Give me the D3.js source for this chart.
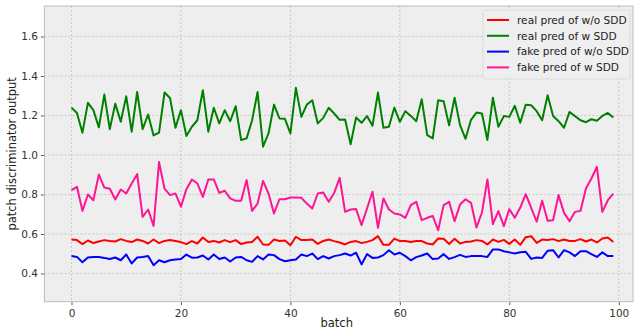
<!DOCTYPE html>
<html>
<head>
<meta charset="utf-8">
<script src="https://cdn.jsdelivr.net/npm/d3@7/dist/d3.min.js"></script>
<style>
  html, body { margin: 0; padding: 0; background: #ffffff; }
  svg { display: block; font-family: "DejaVu Sans", sans-serif; }
</style>
</head>
<body>
<svg id="chart" width="637" height="331"></svg>
<script>
const batches = d3.range(100);
const xTicks = [0, 20, 40, 60, 80, 100];
const yTicks = [0.4, 0.6, 0.8, 1.0, 1.2, 1.4, 1.6];
const seriesNames = ["real pred of w/o SDD", "real pred of w SDD", "fake pred of w/o SDD", "fake pred of w SDD"];
const seriesColors = ["#ff0000", "#008000", "#0000ff", "#ff1493"];

const realWoSDD = [0.572,0.569,0.549,0.567,0.554,0.562,0.569,0.565,0.562,0.574,0.565,0.559,0.572,0.565,0.552,0.572,0.554,0.565,0.570,0.565,
  0.559,0.549,0.564,0.552,0.582,0.559,0.565,0.557,0.569,0.559,0.569,0.549,0.557,0.560,0.586,0.547,0.545,0.572,0.565,0.567,
  0.543,0.586,0.569,0.570,0.572,0.550,0.565,0.572,0.564,0.557,0.547,0.560,0.564,0.554,0.560,0.569,0.589,0.545,0.545,0.577,
  0.564,0.565,0.559,0.564,0.564,0.552,0.547,0.577,0.576,0.549,0.576,0.552,0.560,0.562,0.569,0.565,0.547,0.572,0.560,0.570,
  0.550,0.572,0.545,0.584,0.589,0.555,0.572,0.570,0.574,0.564,0.572,0.565,0.565,0.574,0.562,0.572,0.557,0.577,0.582,0.559];
const realWSDD = [1.239,1.213,1.113,1.264,1.227,1.140,1.306,1.131,1.260,1.168,1.297,1.118,1.319,1.131,1.205,1.099,1.113,1.316,1.289,1.138,
  1.227,1.096,1.143,1.176,1.328,1.118,1.239,1.160,1.227,1.171,1.247,1.076,1.084,1.176,1.319,1.042,1.109,1.255,1.185,1.183,
  1.109,1.340,1.193,1.255,1.277,1.160,1.188,1.239,1.210,1.178,1.180,1.054,1.190,1.163,1.197,1.148,1.316,1.138,1.143,1.240,
  1.168,1.222,1.198,1.171,1.282,1.101,1.084,1.277,1.272,1.150,1.290,1.151,1.082,1.178,1.215,1.210,1.076,1.290,1.143,1.197,
  1.193,1.249,1.163,1.254,1.252,1.222,1.176,1.303,1.197,1.171,1.138,1.218,1.197,1.176,1.166,1.181,1.173,1.198,1.213,1.190];
const fakeWoSDD = [0.489,0.484,0.457,0.481,0.484,0.484,0.479,0.473,0.481,0.467,0.496,0.451,0.481,0.484,0.489,0.442,0.467,0.457,0.467,0.471,
  0.473,0.496,0.480,0.481,0.491,0.471,0.496,0.473,0.481,0.461,0.481,0.484,0.467,0.459,0.488,0.471,0.496,0.493,0.473,0.462,
  0.467,0.471,0.496,0.488,0.501,0.473,0.488,0.476,0.488,0.493,0.501,0.491,0.505,0.446,0.498,0.479,0.481,0.493,0.518,0.496,
  0.505,0.488,0.467,0.483,0.491,0.501,0.473,0.476,0.498,0.474,0.483,0.494,0.484,0.488,0.488,0.488,0.484,0.522,0.522,0.513,
  0.507,0.501,0.508,0.510,0.474,0.481,0.479,0.515,0.518,0.481,0.518,0.507,0.488,0.513,0.513,0.498,0.484,0.507,0.488,0.488];
const fakeWSDD = [0.822,0.839,0.717,0.800,0.771,0.901,0.835,0.829,0.775,0.825,0.805,0.856,0.903,0.687,0.724,0.641,0.964,0.830,0.797,0.805,
  0.738,0.827,0.876,0.856,0.788,0.876,0.876,0.808,0.819,0.780,0.768,0.768,0.873,0.717,0.754,0.869,0.805,0.704,0.776,0.776,
  0.785,0.785,0.783,0.754,0.729,0.805,0.810,0.763,0.808,0.884,0.712,0.724,0.726,0.645,0.729,0.814,0.631,0.780,0.724,0.704,
  0.699,0.682,0.746,0.763,0.670,0.682,0.692,0.619,0.746,0.763,0.665,0.749,0.776,0.758,0.633,0.709,0.876,0.650,0.716,0.640,
  0.726,0.682,0.734,0.802,0.732,0.662,0.768,0.667,0.670,0.797,0.707,0.665,0.712,0.717,0.830,0.881,0.940,0.712,0.771,0.805];

const seriesValues = [realWoSDD, realWSDD, fakeWoSDD, fakeWSDD];

const svg = d3.select("#chart");
const L = 44.4, R = 633, T = 6, B = 301.7;
const x = d3.scaleLinear().domain([-4.95, 102.6]).range([L, R]);
const y = d3.scaleLinear().domain([0.2572, 1.7544]).range([B, T]);

// background
svg.append("rect").attr("x", L).attr("y", T).attr("width", R - L).attr("height", B - T)
  .attr("fill", "#eeeeee");

// grid
const grid = svg.append("g");
grid.selectAll("line.gx").data(xTicks).enter().append("line")
  .attr("x1", d => x(d)).attr("x2", d => x(d)).attr("y1", T).attr("y2", B)
  .attr("stroke", "#b2b2b2").attr("stroke-width", 0.6).attr("stroke-dasharray", "2,2");
grid.selectAll("line.gy").data(yTicks).enter().append("line")
  .attr("x1", L).attr("x2", R).attr("y1", d => y(d)).attr("y2", d => y(d))
  .attr("stroke", "#b2b2b2").attr("stroke-width", 0.6).attr("stroke-dasharray", "2,2");

// axes
const xAxis = d3.axisBottom(x).tickValues(xTicks).tickFormat(d3.format("d")).tickSize(3.5).tickPadding(4);
const yAxis = d3.axisLeft(y).tickValues(yTicks).tickFormat(d3.format(".1f")).tickSize(3.5).tickPadding(3);
const gx = svg.append("g").attr("transform", `translate(0,${B})`).call(xAxis);
const gy = svg.append("g").attr("transform", `translate(${L},0)`).call(yAxis);
[gx, gy].forEach(g => {
  g.select(".domain").remove();
  g.selectAll(".tick line").attr("stroke", "#333333").attr("stroke-width", 0.8);
  g.selectAll(".tick text").attr("fill", "#333333").attr("font-size", 10.5)
    .attr("font-family", "DejaVu Sans, sans-serif");
});

// frame
svg.append("rect").attr("x", L).attr("y", T).attr("width", R - L).attr("height", B - T)
  .attr("fill", "none").attr("stroke", "#bcbcbc").attr("stroke-width", 1);

// lines
const clip = svg.append("clipPath").attr("id", "clip").append("rect")
  .attr("x", L).attr("y", T).attr("width", R - L).attr("height", B - T);
const line = d3.line().x((d, i) => x(batches[i])).y(d => y(d));
const lg = svg.append("g").attr("clip-path", "url(#clip)");
seriesValues.forEach((vals, k) => {
  lg.append("path").datum(vals).attr("d", line)
    .attr("fill", "none").attr("stroke", seriesColors[k]).attr("stroke-width", 2)
    .attr("stroke-linejoin", "round");
});

// axis labels
svg.append("text").attr("x", (L + R) / 2 - 2).attr("y", 327).attr("text-anchor", "middle")
  .attr("font-size", 11.5).attr("fill", "#222").text("batch");
svg.append("text").attr("transform", `translate(16,${(T + B) / 2}) rotate(-90)`)
  .attr("text-anchor", "middle").attr("font-size", 11.5).attr("fill", "#222")
  .text("patch discriminator output");

// legend
const leg = svg.append("g");
leg.append("rect").attr("x", 483).attr("y", 10).attr("width", 147).attr("height", 69)
  .attr("rx", 3).attr("fill", "#eeeeee").attr("fill-opacity", 0.85)
  .attr("stroke", "#d5d5d5").attr("stroke-width", 0.8);
seriesNames.forEach((name, k) => {
  const yy = 20 + k * 15.8;
  leg.append("line").attr("x1", 487).attr("x2", 509).attr("y1", yy).attr("y2", yy)
    .attr("stroke", seriesColors[k]).attr("stroke-width", 2);
  leg.append("text").attr("x", 517).attr("y", yy + 3.8).attr("font-size", 10.6)
    .attr("fill", "#222").text(name);
});
</script>
</body>
</html>
